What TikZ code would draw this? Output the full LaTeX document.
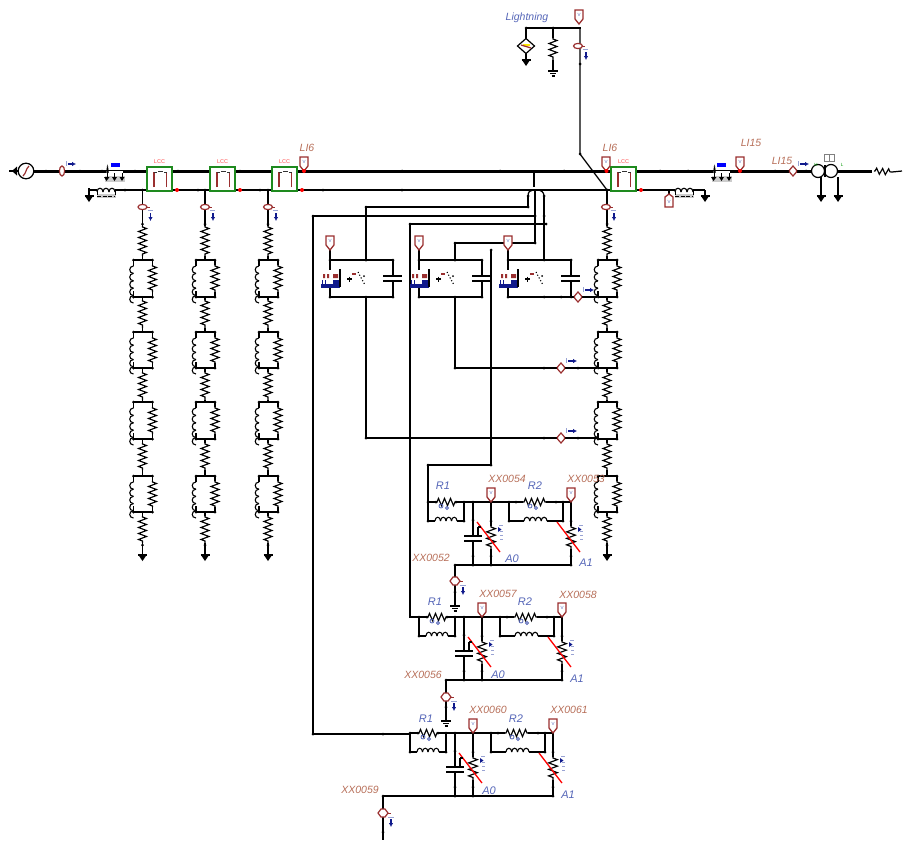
\documentclass[tikz,border=0pt]{standalone}
\usepackage{fontspec}
\setmainfont{Liberation Sans}
\usetikzlibrary{decorations.pathmorphing,calc,arrows.meta}
\definecolor{brn}{HTML}{9A2F2F}
\definecolor{lblr}{HTML}{B8705A}
\definecolor{lblb}{HTML}{5566B8}
\definecolor{nav}{HTML}{101A8C}
\definecolor{grn}{HTML}{1E8A1E}
\tikzset{
 wire/.style={line width=1.25pt,black},
 bus/.style={line width=3pt,black},
 zz/.style={line width=1.15pt,decorate,decoration={zigzag,segment length=6pt,amplitude=4pt,pre=lineto,pre length=1pt,post=lineto,post length=1pt}},
 lr/.style={font=\itshape\fontsize{10.5}{10}\selectfont,text=lblr,inner sep=0pt},
 lb/.style={font=\itshape\fontsize{11}{10}\selectfont,text=lblb,inner sep=0pt},
 lcct/.style={font=\fontsize{5.5}{5}\selectfont,text=red!70!white,inner sep=0pt},
 coilw/.style={line width=1.1pt,black},
}
% dot
\newcommand\Dt[2]{\fill (#1,#2) circle (1.5pt);}
% coils made of bumps
\newcommand\CoilV[3]{\foreach \ci in {1,...,5}{%
 \pgfmathsetmacro\cA{#2+(\ci-1)*(#3-#2)/5}\pgfmathsetmacro\cB{#2+\ci*(#3-#2)/5}%
 \draw[coilw] (#1,\cA) .. controls (#1-5,\cA) and (#1-5,\cB) .. (#1,\cB);}}
\newcommand\CoilH[4]{\foreach \ci in {1,...,#4}{%
 \pgfmathsetmacro\cA{#1+(\ci-1)*(#2-#1)/#4}\pgfmathsetmacro\cB{#1+\ci*(#2-#1)/#4}%
 \draw[coilw] (\cA,#3) .. controls (\cA,#3-5) and (\cB,#3-5) .. (\cB,#3);}}
% vertical resistor
\newcommand\RV[3]{\draw[wire,zz] (#1,#2) -- (#1,#3);}
% parallel block on vertical branch
\newcommand\Blk[3]{%
 \draw[wire] (#1-9,#2) -- (#1+10,#2) (#1-9,#3) -- (#1+10,#3);
 \draw[wire] (#1-9,#2) -- (#1-9,#2+6) (#1-9,#3-6) -- (#1-9,#3);
 \CoilV{#1-9}{#2+6}{#3-6}
 \draw[wire] (#1+10,#2) -- (#1+10,#2+5) (#1+10,#3-5) -- (#1+10,#3);
 \draw[wire,zz] (#1+10,#2+5) -- (#1+10,#3-5);
 \Dt{#1-9}{#2}\Dt{#1+10}{#2}\Dt{#1-9}{#3}\Dt{#1+10}{#3}}
% full resistor string
\newcommand\Str[2]{%
 \draw[wire] (#1,190) -- (#1,226) (#1,256) -- (#1,260) (#1,297) -- (#1,300) (#1,328) -- (#1,332) (#1,368) -- (#1,372) (#1,400) -- (#1,402) (#1,439) -- (#1,443) (#1,470) -- (#1,476) (#1,512) -- (#1,516) (#1,543) -- (#1,555);
 \RV{#1}{226}{256}\RV{#1}{300}{328}\RV{#1}{372}{400}\RV{#1}{443}{470}\RV{#1}{516}{543}
 \Blk{#1}{260}{297}\Blk{#1}{332}{368}\Blk{#1}{402}{439}\Blk{#1}{476}{512}
 \SensV{#1}{207}\Dt{#1}{190}\Dt{#1}{224}\Dt{#1}{545}
 \GndA{#1}{555}}
% ammeter on vertical wire
\newcommand\SensV[2]{%
 \draw[brn,line width=1.2pt,fill=white] (#1,#2) ellipse (4.5pt and 2.6pt);
 \draw[brn,line width=1pt] (#1+4,#2) -- (#1+7,#2);
 \draw[lblb!60!white,line width=.8pt] (#1+5,#2+3.5) -- (#1+10,#2+3.5);
 \draw[nav,line width=1.3pt,-{Latex[length=4pt,width=4.5pt]}] (#1+8,#2+6) -- (#1+8,#2+14);}
% ammeter on horizontal wire
\newcommand\SensH[2]{%
 \draw[brn,line width=1.2pt,fill=white] (#1,#2) ellipse (2.6pt and 5pt);
 \draw[lblb!60!white,line width=.8pt] (#1+4,#2-10) -- (#1+4,#2-5);
 \draw[nav,line width=1.3pt,-{Latex[length=4pt,width=4.5pt]}] (#1+6,#2-7) -- (#1+14,#2-7);}
% diamond ammeter on vertical wire
\newcommand\SensD[2]{%
 \draw[brn,line width=1.2pt,fill=white] (#1-5,#2) -- (#1-2,#2-4) -- (#1+2,#2-4) -- (#1+5,#2) -- (#1+2,#2+4) -- (#1-2,#2+4) -- cycle;
 \draw[brn,line width=1pt] (#1+4,#2) -- (#1+8,#2);
 \draw[lblb!60!white,line width=.8pt] (#1+5,#2+4) -- (#1+11,#2+4);
 \draw[nav,line width=1.3pt,-{Latex[length=4pt,width=4.5pt]}] (#1+8,#2+6) -- (#1+8,#2+14);}
\newcommand\SensHD[2]{%
 \draw[brn,line width=1.2pt,fill=white] (#1-3.5,#2-1) -- (#1,#2-5) -- (#1+3.5,#2-1) -- (#1+3.5,#2+1) -- (#1,#2+5) -- (#1-3.5,#2+1) -- cycle;
 \draw[lblb!60!white,line width=.8pt] (#1+5,#2-10) -- (#1+5,#2-5);
 \draw[nav,line width=1.3pt,-{Latex[length=4pt,width=4.5pt]}] (#1+7,#2-7) -- (#1+16,#2-7);}
% voltage tag, tip at (x,y), body above
\newcommand\Tag[2]{%
 \draw[brn,line width=1.3pt,fill=white] (#1,#2) -- (#1-4,#2-5) -- (#1-4,#2-14) -- (#1+4,#2-14) -- (#1+4,#2-5) -- cycle;
 \node[font=\fontsize{4.5}{4}\selectfont,text=lblb,inner sep=0pt] at (#1,#2-9) {V};}
% ground, filled
\newcommand\GndA[2]{%
 \draw[wire] (#1-4.5,#2) -- (#1+4.5,#2);
 \fill (#1-4,#2) -- (#1+4,#2) -- (#1,#2+6) -- cycle;}
% ground, bars
\newcommand\GndB[2]{%
 \draw[wire] (#1-5,#2) -- (#1+5,#2);
 \draw[line width=1.1pt] (#1-3,#2+2.5) -- (#1+3,#2+2.5);
 \draw[line width=1.1pt] (#1-1.5,#2+5) -- (#1+1.5,#2+5);}
% LCC box
\newcommand\Lcc[1]{%
 \draw[grn,line width=1.4pt,fill=white] (#1,167) rectangle (#1+25,191);
 \draw[brn,line width=1.4pt] (#1+7,187) -- (#1+7,172);
 \draw[brn,line width=1.4pt] (#1+19.5,187) -- (#1+19.5,172);
 \draw[black!80,line width=.9pt] (#1+7,172) -- (#1+10,172) (#1+11,171.5) -- (#1+16,171.5) (#1+17,172) -- (#1+19.5,172);
 \node[lcct] at (#1+12.5,162) {LCC};
 \fill[red] (#1+30,190) circle (2pt);}
% coupled inductor icon on the main bus
\newcommand\Cpl[2]{%
 \fill[white] (#1-8,#2-2) rectangle (#1+9,#2+2);
 \CoilH{#1-7}{#1+8}{#2}{3}
 \fill[black!20] (#1-9,#2+3) rectangle (#1+11,#2+9);
 \draw[wire,line width=1pt] (#1-7,#2) -- (#1-7,#2+5) (#1+.5,#2) -- (#1+.5,#2+5) (#1+8,#2) -- (#1+8,#2+5);
 \fill (#1-10,#2+4) -- (#1-4.5,#2+4) -- (#1-7.5,#2+8) -- cycle;
 \fill (#1-2,#2+4) -- (#1+3,#2+4) -- (#1+.5,#2+8) -- cycle;
 \fill (#1+5.5,#2+4) -- (#1+10.5,#2+4) -- (#1+8,#2+8) -- cycle;}
% coupled inductor icon on the lower line
\newcommand\CplB[2]{%
 \fill[black!20] (#1,#2+4) rectangle (#1+19,#2+8);
 \CoilH{#1}{#1+18}{#2+2}{3}
 \draw[line width=1pt,dashed,dash pattern=on 4pt off 1.5pt] (#1,#2+6) -- (#1+18,#2+6);
 \draw[wire,line width=1pt] (#1,#2) -- (#1,#2+5) (#1+18,#2) -- (#1+18,#2+5);}
% gas-arrester unit
\newcommand\Unit[1]{%
 \draw[wire] (#1,260) -- (#1+63,260) (#1,297) -- (#1+63,297);
 \draw[wire] (#1,250) -- (#1,270) (#1,287) -- (#1,297);
 \draw[wire] (#1+63,260) -- (#1+63,276) (#1+63,281) -- (#1+63,297);
 \draw[line width=1.5pt] (#1+53,276) -- (#1+72,276) (#1+53,281) -- (#1+72,281);
 \Tag{#1}{250}
 \fill[nav] (#1-9,284) rectangle (#1+10,287.5);
 \fill[nav] (#1+3,280) rectangle (#1+10,287.5);
 \draw[wire] (#1+10,269) -- (#1+10,287);
 \draw[nav,line width=1pt] (#1-8,284) -- (#1-8,280) (#1-5,284) -- (#1-5,280);
 \fill[brn] (#1-7,274) rectangle (#1-5,278) (#1-3,274) rectangle (#1-1,278) (#1+3,274) rectangle (#1+8,278);
 \draw[line width=1.1pt] (#1+17,279) -- (#1+22,279) (#1+19.5,276.5) -- (#1+19.5,281.5);
 \draw[brn,line width=1.1pt] (#1+22,274) -- (#1+26,274);
 \draw[line width=1.1pt,dotted] (#1+28,272) -- (#1+35,285);
 \fill (#1+34,276) circle (1pt);
 \Dt{#1}{260}\Dt{#1+63}{260}\Dt{#1}{297}\Dt{#1+63}{297}}
% metal oxide arrester
\newcommand\Arr[3]{%
 \draw[wire] (#1,#2) -- (#1,#2+24) (#1,#2+47) -- (#1,#3);
 \draw[wire,zz,decoration={amplitude=4.4pt,segment length=6.5pt}] (#1,#2+24) -- (#1,#2+47);
 \draw[red,line width=1.3pt] (#1-14,#2+20) -- (#1+9,#2+50);
 \draw[lblb!60!white,line width=1pt] (#1+8,#2+23) -- (#1+12,#2+23) (#1+9,#2+29) -- (#1+12,#2+29) (#1+9,#2+33) -- (#1+12,#2+33) (#1+9,#2+37) -- (#1+12,#2+37);
 \fill[nav] (#1+7,#2+25) -- (#1+10.5,#2+27.5) -- (#1+7,#2+30) -- cycle;
 \Dt{#1}{#2+19}\Dt{#1}{#3-9}}
% R-L stage: base coordinates are the lowest stage
\newcommand\Stage[2]{%
 \begin{scope}[shift={(#1,#2)}]
 \draw[wire] (410,733) -- (418,733) (438,733) -- (505,733) (528,733) -- (553,733);
 \draw[wire,zz,decoration={amplitude=3.6pt}] (418,733) -- (438,733);
 \draw[wire,zz,decoration={amplitude=3.6pt}] (505,733) -- (528,733);
 \draw[wire] (410,733) -- (410,752) (446,733) -- (446,752) (491,733) -- (491,752) (545,733) -- (545,752);
 \draw[wire] (410,752) -- (417,752) (439,752) -- (446,752) (491,752) -- (506,752) (529,752) -- (545,752);
 \CoilH{417}{439}{752}{4}
 \CoilH{506}{529}{752}{4}
 \draw[lblb,line width=.8pt] (423,737) circle (2pt) (429,739) circle (1.5pt) (512,737) circle (2pt) (518,739) circle (1.5pt);
 \draw[wire] (455,733) -- (455,767) (455,772) -- (455,796);
 \draw[line width=1.5pt] (446,767) -- (464,767) (446,772) -- (464,772);
 \Arr{473}{733}{796}
 \Arr{553}{733}{796}
 \draw[line width=1.1pt] (460,758) -- (460,766) (460,758) -- (463,758);
 \draw[wire] (455,796) -- (553,796);
 \Tag{473}{733}\Tag{553}{733}
 \Dt{410}{733}\Dt{418}{733}\Dt{438}{733}\Dt{446}{733}\Dt{455}{733}\Dt{491}{733}\Dt{498}{733}\Dt{538}{733}\Dt{545}{733}
 \Dt{410}{752}\Dt{446}{752}\Dt{491}{752}\Dt{545}{752}\Dt{455}{751}\Dt{455}{787}\Dt{455}{796}\Dt{473}{796}\Dt{553}{796}
 \end{scope}}
\begin{document}
\begin{tikzpicture}[x=1pt,y=-1pt]
\useasboundingbox (0,0) rectangle (903,841);
\fill[white] (0,0) rectangle (903,841);
\coordinate (busL) at (33,171); \coordinate (busR) at (872,171);
\coordinate (tapT) at (534,171); \coordinate (tapB) at (534,187);
% main bus
\draw[bus] (busL) -- (busR);
\draw[line width=2.6pt] (tapT) -- (tapB);
\draw[wire] (115,190) -- (611,190) (637,190) -- (675,190) (693,190) -- (705,190);
\draw[wire] (89,190) -- (97,190);
\draw[wire] (9,171) -- (19,171);
\fill (12,171) -- (17,166.5) -- (17,175.5) -- cycle;
\draw[line width=1.2pt,fill=white] (26,171) circle (7.8pt);
\draw[brn,line width=1.2pt] (23,176) .. controls (27,172) and (25,170) .. (29,166);
\foreach \x in {46,80,102,135,178,240,303,402,500,564,660,688,775,806}{\Dt{\x}{171}}
\foreach \x in {125,198,260,323,402}{\Dt{\x}{190}}
\SensH{62}{171}
% coupled lines
\fill[blue] (111,162.5) rectangle (120,167);
\Cpl{114}{173}
\fill[blue] (717,162.5) rectangle (726,167);
\Cpl{721}{173}
\CplB{97}{190}
\CplB{675}{190}
\draw[wire] (89,188) -- (89,195);
\GndA{89}{196}
\draw[wire] (705,190) -- (705,196);
\GndA{705}{196}
% strings
\Str{142.5}{}\Str{205}{}\Str{268}{}
\Lcc{147}\Lcc{210}\Lcc{272}\Lcc{611}
\Tag{304}{171}\fill[red] (304,171) circle (2pt);
\Tag{606}{171}\fill[red] (606.5,171) circle (2pt);
\Tag{740}{171}\fill[red] (740,171) circle (2pt);
\SensHD{793}{171}
% right hand
\draw[wire] (607,190) -- (607,226) (607,256) -- (607,260) (607,297) -- (607,300) (607,328) -- (607,332) (607,368) -- (607,372) (607,400) -- (607,402) (607,439) -- (607,443) (607,470) -- (607,476) (607,512) -- (607,516) (607,543) -- (607,555);
\RV{607}{226}{256}\RV{607}{300}{328}\RV{607}{372}{400}\RV{607}{443}{470}\RV{607}{516}{543}
\Blk{607}{260}{297}\Blk{607}{332}{368}\Blk{607}{402}{439}\Blk{607}{476}{512}
\SensV{606}{207}\Dt{607}{190}\Dt{607}{224}\Dt{607}{545}\GndA{607}{555}
% tag below
\draw[wire] (669,190) -- (669,196);
\draw[brn,line width=1.3pt,fill=white] (669,194) -- (665,197) -- (665,207) -- (673,207) -- (673,197) -- cycle;
\node[font=\fontsize{4.5}{4}\selectfont,text=lblb,inner sep=0pt] at (669,202) {V};
% transformer
\draw[line width=1.2pt,fill=white] (818,171) circle (6.5pt) (831,171) circle (6.5pt);
\draw[line width=2pt] (824.5,165) -- (824.5,177);
\draw[black!50,line width=1pt] (824,154.5) rectangle (834,161);
\draw[black!50,line width=.9pt] (829,154.5) -- (829,161);
\draw[wire] (821,177) -- (821,196) (838,177) -- (838,196);
\GndA{821}{196}\GndA{838}{196}
\node[font=\fontsize{4.5}{4}\selectfont,text=green!60!black,inner sep=0pt] at (816,165) {H};
\node[font=\fontsize{4.5}{4}\selectfont,text=green!60!black,inner sep=0pt] at (842,165) {L};
\draw[wire,zz,decoration={amplitude=3pt}] (874,171) -- (892,172);
\draw[wire] (892,172) -- (902,171);
% lightning
\draw[wire] (526,28) -- (581,28);
\draw[wire] (526,28) -- (526,60);
\draw[line width=1.2pt,fill=white] (517.5,46) -- (526,38.5) -- (534.5,46) -- (526,53.5) -- cycle;
\fill[yellow!90!orange] (523,43.5) rectangle (530,46);
\draw[brn,line width=1.2pt] (521,45) -- (531,48);
\GndA{526}{60}
\draw[wire] (553,28) -- (553,38) (553,60) -- (553,70);
\RV{553}{38}{60}
\GndB{553}{71}
\draw[wire] (580,28) -- (580,154) -- (607,190);
\SensV{578}{46}
\Tag{579}{24}
\foreach \x/\y in {526/28,553/28,580/64,580/154}{\Dt{\x}{\y}}
% control wiring
\draw[wire] (528,196) -- (528,207) -- (366,207) -- (366,260);
\draw[wire] (535,216) -- (313,216) -- (313,734) -- (410,734);
\draw[wire] (544,196) -- (544,260);
\draw[wire] (546,224) -- (410,224) -- (410,617) -- (419,617);
\draw[wire] (535,190) -- (535,243) -- (455,243) -- (455,260);
\draw[wire] (528,196) .. controls (528,192) and (530,190) .. (533,190);
\draw[wire] (537,190) .. controls (541,190) and (544,192) .. (544,196);
\Unit{330}\Unit{419}\Unit{508}
\draw[wire] (366,297) -- (366,438) -- (597,438);
\draw[wire] (455,297) -- (455,368) -- (597,368);
\draw[wire] (571,297) -- (597,297);
\draw[wire] (491,250) -- (491,465) -- (428,465) -- (428,502);
\SensHD{561}{368}\SensHD{561}{438}\SensHD{578}{297}
\foreach \x/\y in {528/207,366/207,535/216,313/216,410/224,546/224,535/224,544/216,528/196,544/196,455/243,535/243,491/250,366/297,366/260,455/297,455/260,544/260,455/368,366/438,544/297,561/297,544/368,578/368,544/438,578/438,491/465,428/465,313/734,383/734}{\Dt{\x}{\y}}
% stages
\Stage{18}{-231}
\Stage{9}{-116}
\Stage{0}{0}
\draw[wire] (455,565) -- (473,565) (455,565) -- (455,606);
\SensD{455}{581}\GndB{455}{606}
\draw[wire] (446,680) -- (464,680) (446,680) -- (446,721);
\SensD{446}{697}\GndB{446}{721}
\draw[wire] (383,796) -- (455,796) (383,796) -- (383,840);
\SensD{383}{813}\Dt{383}{796}\Dt{383}{832}
\Dt{455}{565}\Dt{446}{680}\Dt{455}{592}\Dt{446}{707}
% labels
\node[lb,font=\itshape\fontsize{10.5}{10}\selectfont] at (527,18) {Lightning};
\node[lr] at (307,148) {LI6};
\node[lr] at (610,148) {LI6};
\node[lr] at (751,143) {LI15};
\node[lr] at (782,161) {LI15};
\node[lr] at (507,479) {XX0054};
\node[lr] at (586,479) {XX0053};
\node[lr] at (431,558) {XX0052};
\node[lr] at (498,594) {XX0057};
\node[lr] at (578,595) {XX0058};
\node[lr] at (423,675) {XX0056};
\node[lr] at (488,710) {XX0060};
\node[lr] at (569,710) {XX0061};
\node[lr] at (360,790) {XX0059};
\node[lb] at (443,486) {R1};
\node[lb] at (535,486) {R2};
\node[lb] at (435,602) {R1};
\node[lb] at (525,602) {R2};
\node[lb] at (426,719) {R1};
\node[lb] at (516,719) {R2};
\node[lb] at (512,559) {A0};
\node[lb] at (586,563) {A1};
\node[lb] at (498,675) {A0};
\node[lb] at (577,679) {A1};
\node[lb] at (489,791) {A0};
\node[lb] at (568,795) {A1};
\end{tikzpicture}
\end{document}
